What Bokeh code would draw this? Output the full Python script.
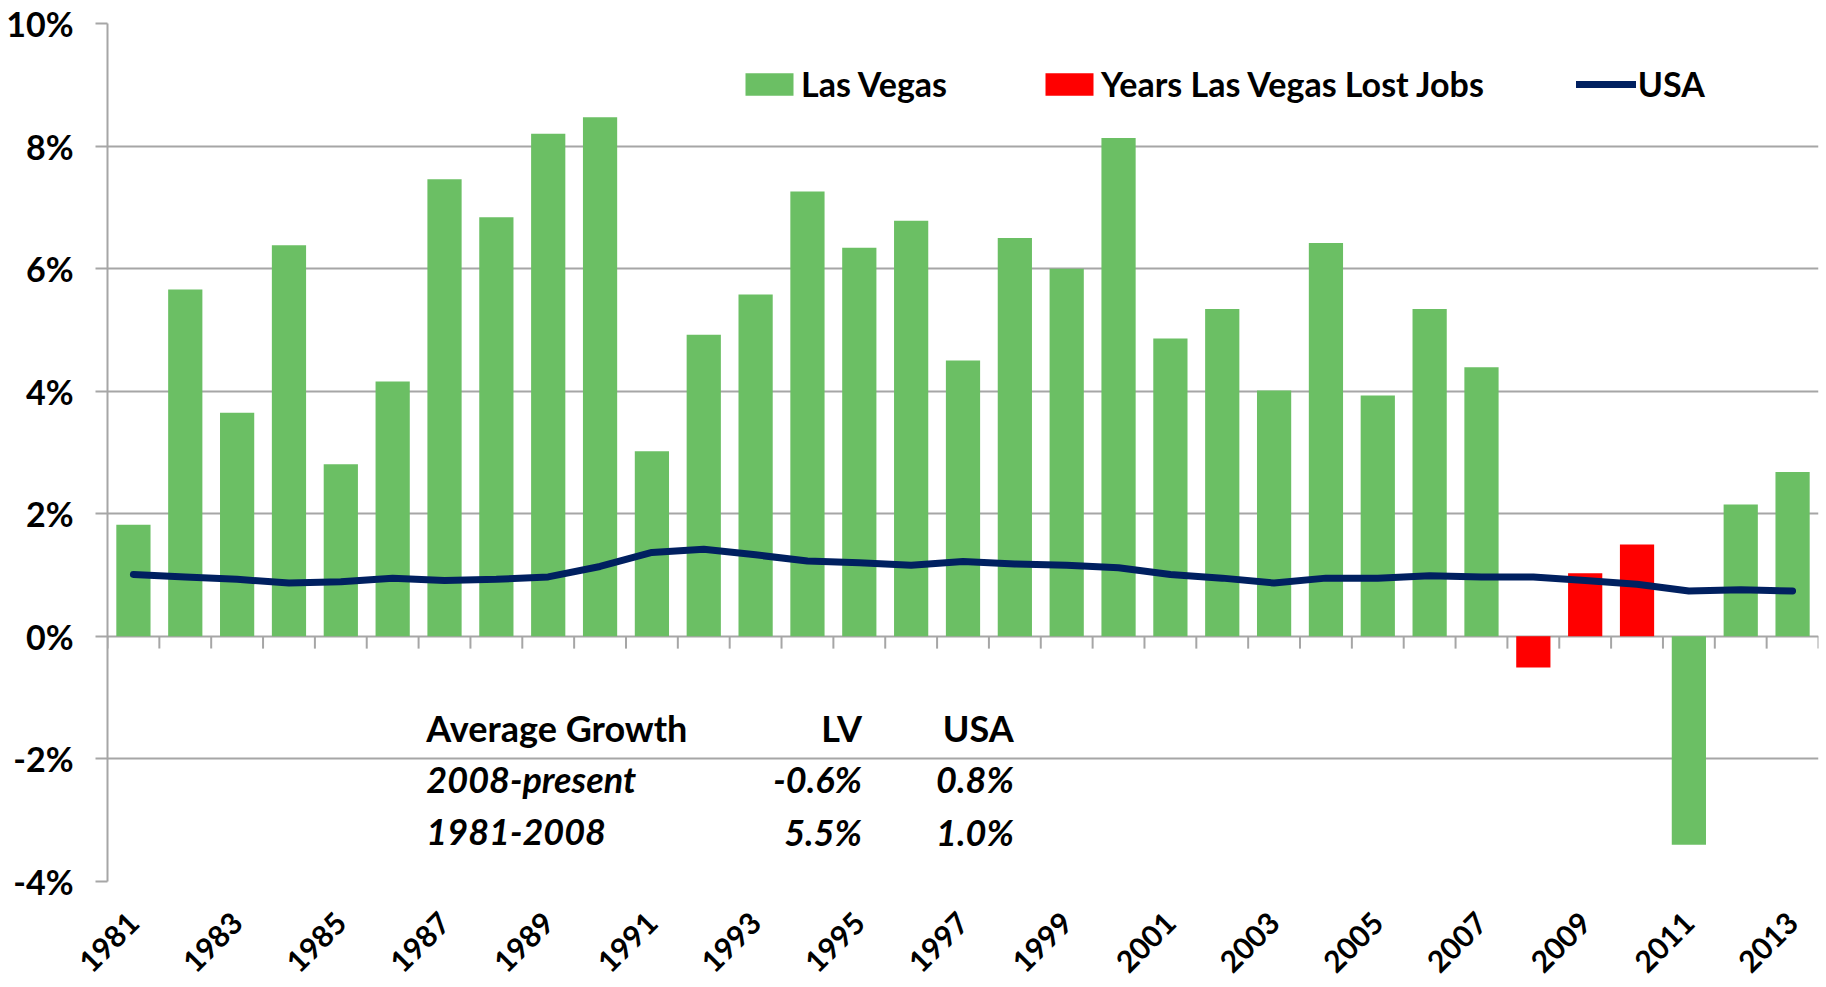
import math
from bokeh.plotting import figure
from bokeh.models import (FixedTicker, PrintfTickFormatter, Label, Legend, LegendItem,
                          ColumnDataSource, Range1d)
from bokeh.embed import file_html
from bokeh.resources import INLINE

# ---------------- data ----------------
years = list(range(1981, 2014))
lv_growth = [1.82, 5.66, 3.65, 6.38, 2.81, 4.16, 7.46, 6.84, 8.20, 8.47,
             3.02, 4.92, 5.58, 7.26, 6.34, 6.78, 4.50, 6.50, 6.00, 8.13,
             4.86, 5.34, 4.01, 6.42, 3.93, 5.34, 4.39, -0.51, 1.03, 1.50,
             -3.40, 2.15, 2.68]
usa_growth = [1.01, 0.97, 0.93, 0.87, 0.89, 0.95, 0.91, 0.93, 0.97, 1.14,
              1.37, 1.42, 1.33, 1.23, 1.20, 1.16, 1.22, 1.18, 1.16, 1.12,
              1.01, 0.95, 0.87, 0.95, 0.95, 0.99, 0.97, 0.97, 0.91, 0.85,
              0.74, 0.76, 0.74]
lost_years = [2008, 2009, 2010]
y_ticks = [-4, -2, 0, 2, 4, 6, 8, 10]
x_label_years = years[::2]
series_names = ["Las Vegas", "Years Las Vegas Lost Jobs", "USA"]
table_header = ["Average Growth", "LV", "USA"]
table_rows = [["2008-present", "-0.6%", "0.8%"],
              ["1981-2008", "5.5%", "1.0%"]]

# ---------------- styles ----------------
GREEN = "#6BBF64"
RED = "#FF0000"
NAVY = "#002060"
GRAY = "#A6A6A6"
FONT = "Lato"
FS = "34px"
FS_X = "30px"
FS_TABLE = "36px"

green_src = ColumnDataSource(dict(
    year=[y for y in years if y not in lost_years],
    val=[v for y, v in zip(years, lv_growth) if y not in lost_years]))
red_src = ColumnDataSource(dict(
    year=[y for y in years if y in lost_years],
    val=[v for y, v in zip(years, lv_growth) if y in lost_years]))

p = figure(width=1824, height=985,
           x_range=Range1d(years[0] - 0.5, years[-1] + 0.5),
           y_range=Range1d(y_ticks[0], y_ticks[-1]),
           output_backend="svg", toolbar_location=None,
           min_border_left=107, min_border_right=6,
           min_border_top=23, min_border_bottom=103)
p.outline_line_color = None
p.background_fill_color = "white"

# grid
p.xgrid.grid_line_color = None
p.ygrid.ticker = FixedTicker(ticks=y_ticks)
p.ygrid.grid_line_color = GRAY
p.ygrid.grid_line_width = 2

# y axis
p.yaxis.ticker = FixedTicker(ticks=y_ticks)
p.yaxis.formatter = PrintfTickFormatter(format="%d%%")
p.yaxis.axis_line_color = GRAY
p.yaxis.axis_line_width = 2
p.yaxis.major_tick_line_color = GRAY
p.yaxis.major_tick_line_width = 2
p.yaxis.major_tick_in = 0
p.yaxis.major_tick_out = 12
p.yaxis.minor_tick_line_color = None
p.yaxis.major_label_standoff = 22
p.yaxis.major_label_text_font = FONT
p.yaxis.major_label_text_font_style = "bold"
p.yaxis.major_label_text_font_size = FS
p.yaxis.major_label_text_color = "black"

# x axis (labels only, the line is the -4% gridline)
p.xaxis.ticker = FixedTicker(ticks=x_label_years)
p.xaxis.axis_line_color = None
p.xaxis.major_tick_line_color = None
p.xaxis.minor_tick_line_color = None
p.xaxis.major_tick_out = 0
p.xaxis.major_tick_in = 0
p.xaxis.major_label_orientation = math.pi / 4
p.xaxis.major_label_standoff = 36
p.xaxis.major_label_text_font = FONT
p.xaxis.major_label_text_font_style = "bold"
p.xaxis.major_label_text_font_size = FS_X
p.xaxis.major_label_text_color = "black"

# category boundary ticks on the zero line
bounds = [y - 0.5 for y in years] + [years[-1] + 0.5]
p.segment(x0=bounds, y0=[0] * len(bounds), x1=bounds, y1=[-0.2] * len(bounds),
          line_color=GRAY, line_width=2)

# bars and line
r_green = p.vbar(x="year", top="val", width=0.66, source=green_src,
                 fill_color=GREEN, line_color=None)
r_red = p.vbar(x="year", top="val", width=0.66, source=red_src,
               fill_color=RED, line_color=None)
r_usa = p.line(years, usa_growth, line_color=NAVY, line_width=7,
               line_cap="round", line_join="round")

legend = Legend(items=[LegendItem(label=series_names[0], renderers=[r_green]),
                       LegendItem(label=series_names[1], renderers=[r_red]),
                       LegendItem(label=series_names[2], renderers=[r_usa])],
                orientation="horizontal", location=(632, 777),
                spacing=92, padding=0, margin=0,
                glyph_width=60, glyph_height=28, label_standoff=2,
                label_text_font=FONT, label_text_font_style="bold",
                label_text_font_size=FS, label_text_color="black",
                border_line_color=None, background_fill_alpha=0)
p.add_layout(legend)

# summary table
row_y = [-1.5, -2.33, -3.2]
col_x = [1986.65, 1995.05, 1997.98]
rows = [table_header] + table_rows
for i, row in enumerate(rows):
    style = "bold" if i == 0 else "bold italic"
    for j, txt in enumerate(row):
        p.add_layout(Label(x=col_x[j], y=row_y[i], text=txt,
                           text_align="left" if j == 0 else "right",
                           text_baseline="middle",
                           text_font=FONT, text_font_style=style,
                           text_font_size=FS_TABLE, text_color="black"))

open("out.html", "w").write(file_html(p, INLINE))
